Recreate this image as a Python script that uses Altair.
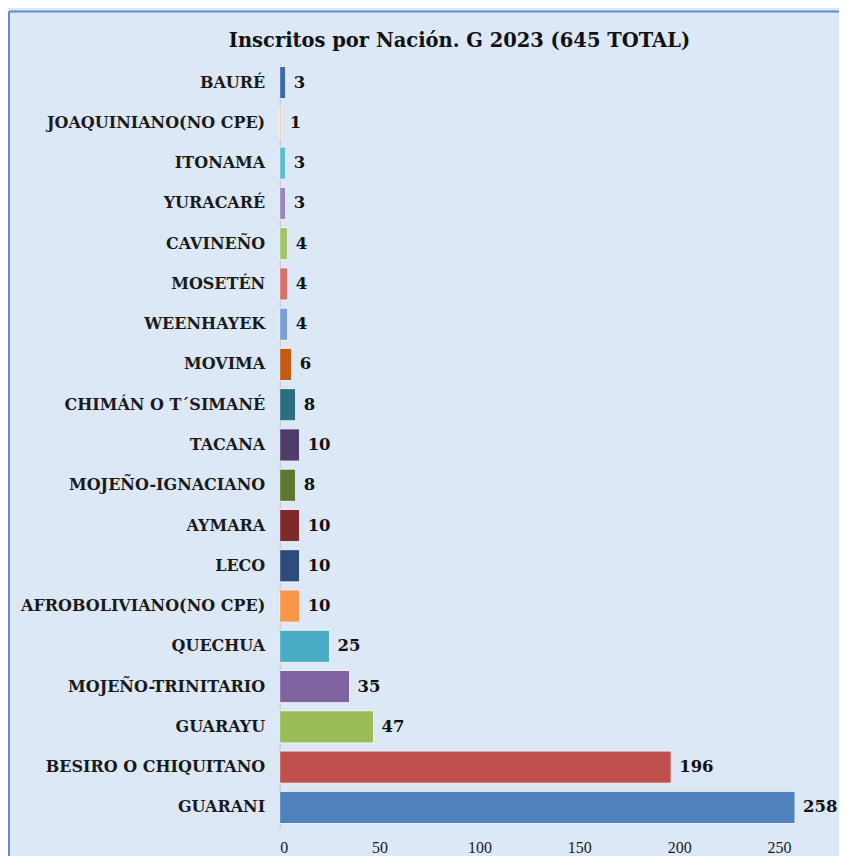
import altair as alt
import pandas as pd

categories = ["BAURÉ", "JOAQUINIANO(NO CPE)", "ITONAMA", "YURACARÉ", "CAVINEÑO",
              "MOSETÉN", "WEENHAYEK", "MOVIMA", "CHIMÁN O T´SIMANÉ", "TACANA",
              "MOJEÑO-IGNACIANO", "AYMARA", "LECO", "AFROBOLIVIANO(NO CPE)",
              "QUECHUA", "MOJEÑO-TRINITARIO", "GUARAYU", "BESIRO O CHIQUITANO", "GUARANI"]
values = [3, 1, 3, 3, 4, 4, 4, 6, 8, 10, 8, 10, 10, 10, 25, 35, 47, 196, 258]
colors = ["#3c6aa6", "#f8cba0", "#5bbdd0", "#9a86c0", "#a5c46a", "#d9706e", "#7a9fd6",
          "#c55a11", "#2d6e7e", "#4e3d6b", "#5f7530", "#7f2a2a", "#2c4d7a", "#f79646",
          "#4bacc6", "#8064a2", "#9bbb59", "#c0504d", "#4f81bd"]
x_ticks = [0, 50, 100, 150, 200, 250]
title_text = "Inscritos por Nación. G 2023 (645 TOTAL)"

df = pd.DataFrame({"nacion": categories, "inscritos": values, "color": colors})

FONT = "DejaVu Serif"
FONT2 = "Liberation Serif"

y_enc = alt.Y("nacion:N", sort=categories,
              scale=alt.Scale(paddingInner=0.2, paddingOuter=0.1),
              axis=alt.Axis(title=None, ticks=False, labelPadding=15,
                            labelFont=FONT, labelFontSize=16, labelFontWeight="bold",
                            labelColor="#1a1a1a", domainColor="#bfbfbf",
                            labelLimit=400))
x_enc = alt.X("inscritos:Q",
              scale=alt.Scale(domain=[0, 280], nice=False),
              axis=alt.Axis(title=None, values=x_ticks, ticks=False, domain=False,
                            grid=False, labelFont=FONT2, labelFontSize=16,
                            labelColor="#1a1a1a", labelPadding=12))

bars = alt.Chart(df).mark_bar(stroke="#eef3fa", strokeWidth=1).encode(
    x=x_enc, y=y_enc,
    color=alt.Color("color:N", scale=None),
)

labels = alt.Chart(df).mark_text(align="left", baseline="middle", dx=8,
                                 font=FONT, fontSize=16.5, fontWeight="bold",
                                 color="#111111").encode(
    x="inscritos:Q", y=alt.Y("nacion:N", sort=categories), text="inscritos:Q"
)

one = pd.DataFrame({"t": [title_text]})
frame_top = alt.Chart(one).mark_rule(stroke="#5b8bd0", strokeWidth=2).encode(
    x=alt.value(-271), x2=alt.value(600), y=alt.value(-51))
frame_left = alt.Chart(one).mark_rule(stroke="#5b8bd0", strokeWidth=2).encode(
    x=alt.value(-271), y=alt.value(-51), y2=alt.value(900))

title = alt.Chart(one).mark_text(font=FONT, fontSize=19.5, fontWeight="bold",
                                 color="#111111", align="center",
                                 baseline="alphabetic").encode(
    x=alt.value(180), y=alt.value(-15), text="t:N")

chart = alt.layer(frame_top, frame_left, bars, labels, title).properties(
    width=560, height=766,
    autosize=alt.AutoSizeParams(type="none"),
    padding={"left": 272, "top": 54, "right": 0, "bottom": 28},
    background="#dde8f6",
).configure_view(stroke=None)

chart.save("out.html", embed_options={"renderer": "svg", "actions": False})
